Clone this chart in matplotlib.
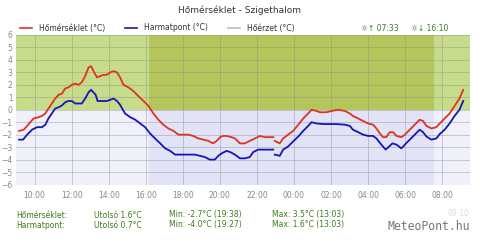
import numpy as np
import matplotlib
matplotlib.use("Agg")
import matplotlib.pyplot as plt
from matplotlib.lines import Line2D

# --- data --------------------------------------------------------------
temp_times = ["09:10", "09:25", "09:36", "09:46", "09:57", "10:13", "10:24", "10:35", "10:45", "10:56",
              "11:07", "11:18", "11:29", "11:39", "11:50", "12:01", "12:12", "12:22", "12:33", "12:44",
              "12:55", "13:03", "13:11", "13:22", "13:33", "13:43", "13:54", "14:05", "14:16", "14:27",
              "14:37", "14:48", "15:04", "15:20", "15:36", "15:53", "16:09", "16:25", "16:41", "16:57",
              "17:13", "17:30", "17:46", "18:02", "18:18", "18:34", "18:50", "19:07", "19:23", "19:38",
              "19:50", "20:01", "20:11", "20:22", "20:38", "20:49", "21:05", "21:21", "21:37", "21:54",
              "22:10", "22:26", "22:53", "22:55", "22:58", "23:14", "23:25", "23:41", "23:57", "00:14",
              "00:30", "00:46", "00:57", "01:13", "01:24", "01:45", "02:02", "02:23", "02:45", "03:01",
              "03:11", "03:28", "03:44", "04:00", "04:16", "04:27", "04:38", "04:48", "04:59", "05:10",
              "05:21", "05:32", "05:48", "05:59", "06:15", "06:31", "06:47", "06:58", "07:09", "07:25",
              "07:41", "07:52", "08:08", "08:24", "08:40", "08:56", "09:08"]
temp_vals = [-1.7, -1.6, -1.3, -1.0, -0.7, -0.6, -0.5, -0.3, 0.1, 0.5,
             0.9, 1.2, 1.3, 1.7, 1.8, 2.0, 2.1, 2.0, 2.2, 2.7,
             3.4, 3.5, 3.1, 2.6, 2.7, 2.8, 2.8, 3.0, 3.1, 3.0,
             2.6, 2.0, 1.8, 1.5, 1.1, 0.7, 0.3, -0.3, -0.8, -1.2,
             -1.5, -1.7, -2.0, -2.0, -2.0, -2.1, -2.3, -2.4, -2.5, -2.7,
             -2.5, -2.2, -2.1, -2.1, -2.2, -2.3, -2.7, -2.7, -2.5, -2.3,
             -2.1, -2.2, -2.2, None, -2.5, -2.7, -2.3, -2.0, -1.7, -1.2,
             -0.7, -0.3, 0.0, -0.1, -0.2, -0.2, -0.1, 0.0, -0.1, -0.3,
             -0.5, -0.7, -0.9, -1.1, -1.2, -1.5, -1.9, -2.2, -2.2, -1.8,
             -1.8, -2.1, -2.2, -2.0, -1.6, -1.2, -0.8, -0.9, -1.3, -1.5,
             -1.4, -1.1, -0.7, -0.3, 0.3, 0.9, 1.6]

dew_times = ["09:10", "09:23", "09:36", "09:52", "10:08", "10:24", "10:35", "10:45", "10:56", "11:07",
             "11:18", "11:29", "11:39", "11:50", "12:01", "12:12", "12:22", "12:33", "12:44", "12:55",
             "13:03", "13:18", "13:24", "13:38", "13:54", "14:05", "14:16", "14:27", "14:37", "14:53",
             "15:10", "15:26", "15:42", "15:58", "16:14", "16:30", "16:47", "17:03", "17:19", "17:35",
             "17:51", "18:07", "18:23", "18:39", "18:56", "19:12", "19:27", "19:44", "19:55", "20:06",
             "20:22", "20:34", "20:49", "21:05", "21:21", "21:37", "21:48", "22:04", "22:20", "22:53",
             "22:55", "22:58", "23:14", "23:25", "23:41", "23:57", "00:14", "00:30", "00:46", "00:57",
             "01:13", "01:35", "01:56", "02:18", "02:45", "03:01", "03:11", "03:28", "03:44", "04:00",
             "04:16", "04:27", "04:43", "04:57", "05:08", "05:19", "05:32", "05:48", "05:59", "06:15",
             "06:31", "06:47", "06:58", "07:09", "07:25", "07:41", "07:52", "08:08", "08:24", "08:40",
             "08:56", "09:08"]
dew_vals = [-2.4, -2.4, -2.0, -1.6, -1.4, -1.4, -1.2, -0.7, -0.3, 0.1,
            0.2, 0.35, 0.6, 0.7, 0.7, 0.5, 0.5, 0.5, 0.9, 1.4,
            1.6, 1.2, 0.7, 0.7, 0.7, 0.8, 0.9, 0.7, 0.4, -0.3,
            -0.6, -0.8, -1.1, -1.4, -1.9, -2.3, -2.7, -3.1, -3.3, -3.6,
            -3.6, -3.6, -3.6, -3.6, -3.7, -3.8, -4.0, -4.0, -3.7, -3.5,
            -3.3, -3.4, -3.6, -3.9, -3.9, -3.8, -3.4, -3.2, -3.2, -3.2,
            None, -3.6, -3.7, -3.2, -2.95, -2.55, -2.15, -1.7, -1.3, -1.0,
            -1.1, -1.15, -1.15, -1.15, -1.2, -1.3, -1.6, -1.8, -2.0, -2.1,
            -2.1, -2.3, -2.8, -3.2, -2.95, -2.7, -2.8, -3.1, -2.8, -2.4,
            -2.0, -1.6, -1.8, -2.15, -2.4, -2.3, -1.95, -1.6, -1.1, -0.5,
            0.0, 0.7]

tick_labels = ["10:00", "12:00", "14:00", "16:00", "18:00", "20:00", "22:00",
               "00:00", "02:00", "04:00", "06:00", "08:00"]
sunrise = "07:33"
sunset = "16:10"


def to_hours(s):
    # the window starts at 09:10, anything earlier belongs to the next day
    h, m = s.split(":")
    h = int(h) + int(m) / 60.0
    if h < 9 + 10 / 60.0:
        h += 24
    return h


def to_series(times, vals):
    x = np.array([to_hours(t) for t in times])
    y = np.array([np.nan if v is None else v for v in vals], dtype=float)
    return x, y


tx, ty = to_series(temp_times, temp_vals)
dx, dy = to_series(dew_times, dew_vals)
tx[0] = dx[0] = 9 + 10 / 60.0

x0, x1 = 9.0, 33.5
y0, y1 = -6, 6
rise = to_hours(sunrise)
set_ = to_hours(sunset)

fig = plt.figure(figsize=(4.8, 2.46), dpi=100)
ax = fig.add_axes([16 / 480, 1 - 184.5 / 246, 454 / 480, 149.5 / 246])

day_up, night_up = "#c6dc8a", "#b4c55c"
day_dn, night_dn = "#f0f0fb", "#e2e3f6"
ax.fill_between([x0, set_], 0, y1, color=day_up, lw=0, zorder=0)
ax.fill_between([set_, rise], 0, y1, color=night_up, lw=0, zorder=0)
ax.fill_between([rise, x1], 0, y1, color=day_up, lw=0, zorder=0)
ax.fill_between([x0, set_], y0, 0, color=day_dn, lw=0, zorder=0)
ax.fill_between([set_, rise], y0, 0, color=night_dn, lw=0, zorder=0)
ax.fill_between([rise, x1], y0, 0, color=day_dn, lw=0, zorder=0)

ax.plot(tx, ty, color="#dd3322", lw=1.3, zorder=3)
ax.plot(dx, dy, color="#1515bb", lw=1.3, zorder=3)

ax.set_xlim(x0, x1)
ax.set_ylim(y0, y1)
ax.set_xticks([to_hours(t) for t in tick_labels])
ax.set_xticklabels(tick_labels)
ax.set_yticks(range(-6, 7))
ax.tick_params(length=0, labelsize=5.5, colors="#888888")
ax.tick_params(axis="y", pad=2.5)
ax.tick_params(axis="x", pad=5)
ax.grid(True, color="#8a8a8a", lw=0.5, alpha=0.55)
ax.set_axisbelow(True)
for s in ax.spines.values():
    s.set_visible(False)

# title and legend row
fig.text(0.5, 1 - 10 / 246, "Hőmérséklet - Szigethalom", ha="center", va="center",
         fontsize=6.5, color="#333333")
ly = 1 - 28 / 246
for xs, col, label in [(20, "#dd3322", "Hőmérséklet (°C)"),
                       (125, "#1515bb", "Harmatpont (°C)"),
                       (228, "#bbbbbb", "Hőérzet (°C)")]:
    fig.add_artist(Line2D([xs / 480, (xs + 12) / 480], [ly, ly], color=col, lw=1.2))
    fig.text((xs + 19) / 480, ly, label, ha="left", va="center", fontsize=5.5, color="#333333")
fig.text(361 / 480, ly, "☼↑ " + sunrise, ha="left", va="center", fontsize=5.5, color="#3a7a2a")
fig.text(411 / 480, ly, "☼↓ " + sunset, ha="left", va="center", fontsize=5.5, color="#3a7a2a")

# summary rows under the chart
green = "#3f7a1e"
rows = [(215, "Hőmérséklet:", "Utolsó 1.6°C", "Min: -2.7°C (19:38)", "Max: 3.5°C (13:03)"),
        (225, "Harmatpont:", "Utolsó 0.7°C", "Min: -4.0°C (19:27)", "Max: 1.6°C (13:03)")]
for yy, a, b, c, d in rows:
    for xx, txt in [(16, a), (94, b), (169, c), (272, d)]:
        fig.text(xx / 480, 1 - yy / 246, txt, ha="left", va="center", fontsize=5.5, color=green)
fig.text(469 / 480, 1 - 213 / 246, "09:10", ha="right", va="center", fontsize=5.5, color="#dddddd")
fig.text(470 / 480, 1 - 226 / 246, "MeteoPont.hu", ha="right", va="center", fontsize=8.3,
         color="#777777", family="DejaVu Sans Mono")

fig.savefig("out.png", dpi=100, facecolor="white")
